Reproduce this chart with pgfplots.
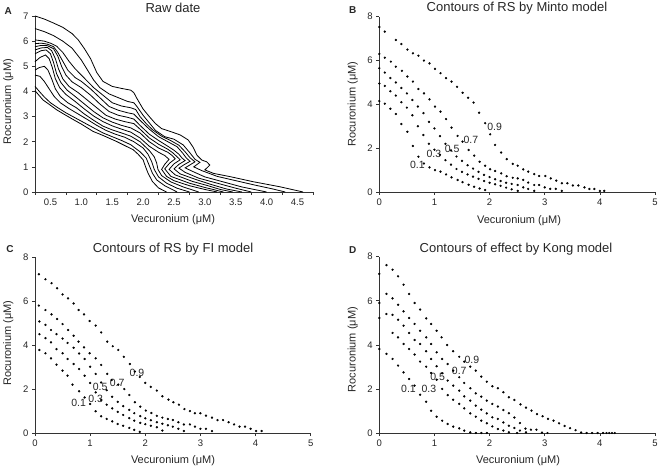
\documentclass[border=0pt]{standalone}
\usepackage{fontspec}
\setmainfont{Liberation Sans}
\usepackage{pgfplots}
\pgfplotsset{compat=1.18}
\begin{document}
\begin{tikzpicture}
\useasboundingbox (0pt,0pt) rectangle (660pt,468pt);
\pgfplotsset{
  panel/.style={
    scale only axis, anchor=south west,
    axis lines*=left,
    axis line style={black!80, line width=0.6pt},
    tick align=outside, major tick length=3pt,
    tick style={black!80, line width=0.6pt},
    tick label style={font=\fontsize{9.5}{11}\selectfont, text=black!85},
    /pgf/number format/assume math mode=true,
    clip=false,
  },
  contour/.style={black, line width=0.8pt},
  dots/.style={only marks, mark=*, mark size=0.95pt, black},
}
\tikzset{
  lab/.style={font=\fontsize{10.5}{12}\selectfont, text=black!85, inner sep=0pt},
  ttl/.style={font=\fontsize{13}{15}\selectfont, text=black!85, inner sep=0pt},
  pletter/.style={font=\fontsize{10}{12}\selectfont\bfseries, text=black!85, inner sep=0pt},
  axl/.style={font=\fontsize{11}{13}\selectfont, text=black!85, inner sep=0pt},
}

% ---------------- A: raw data ----------------
\begin{axis}[panel, at={(35pt,276pt)}, width=278pt, height=176pt,
  xmin=0.25, xmax=4.75, ymin=0, ymax=7,
  xtick={0.25,0.75,...,4.75},
  xticklabels={0.5,1.0,1.5,2.0,2.5,3.0,3.5,4.0,4.5,{}},
  x tick label style={xshift=15.45pt},
  ytick={0,...,7}]
\addplot[contour] coordinates {(0.25,7.0) (0.4,6.88) (0.55,6.72) (0.7,6.55) (0.85,6.3) (0.95,6.05) (1.05,5.7) (1.15,5.3) (1.25,4.75) (1.35,4.4) (1.5,4.2) (1.65,4.12) (1.8,4.05) (1.85,3.95) (1.9,3.72) (2.0,3.3) (2.1,3.0) (2.2,2.72) (2.3,2.52) (2.45,2.4) (2.6,2.27) (2.73,2.07) (2.81,1.78) (2.87,1.47) (2.95,1.27) (3.03,1.2) (3.08,1.07) (3.0,0.88) (3.14,0.74) (3.41,0.61) (3.78,0.41) (4.21,0.21) (4.59,0.0)};
\addplot[contour] coordinates {(0.25,6.5) (0.4,6.38) (0.55,6.22) (0.7,6.0) (0.85,5.72) (1.0,5.25) (1.1,4.85) (1.2,4.45) (1.3,4.15) (1.45,3.9) (1.6,3.75) (1.75,3.6) (1.85,3.55) (1.9,3.4) (2.0,3.05) (2.1,2.75) (2.2,2.45) (2.35,2.2) (2.5,2.1) (2.65,1.87) (2.76,1.55) (2.84,1.3) (2.92,1.18) (2.82,1.0) (2.95,0.85) (3.2,0.62) (3.5,0.45) (3.8,0.28) (4.1,0.12) (4.3,0.0)};
\addplot[contour] coordinates {(0.25,6.05) (0.4,6.0) (0.5,5.92) (0.6,5.8) (0.7,5.55) (0.8,5.2) (0.9,4.9) (1.0,4.65) (1.1,4.4) (1.2,4.15) (1.35,3.85) (1.5,3.55) (1.65,3.42) (1.8,3.35) (1.88,3.28) (1.95,3.0) (2.05,2.72) (2.15,2.48) (2.3,2.22) (2.45,2.04) (2.58,1.86) (2.68,1.6) (2.76,1.36) (2.84,1.2) (2.74,1.05) (2.68,0.96) (2.8,0.82) (3.0,0.6) (3.3,0.4) (3.6,0.2) (4.0,0.0)};
\addplot[contour] coordinates {(0.25,5.9) (0.35,5.92) (0.45,5.88) (0.55,5.78) (0.62,5.55) (0.7,5.2) (0.78,4.85) (0.9,4.55) (1.0,4.4) (1.15,4.1) (1.3,3.75) (1.45,3.4) (1.6,3.25) (1.75,3.15) (1.85,3.1) (1.95,2.85) (2.1,2.5) (2.25,2.2) (2.4,2.0) (2.55,1.8) (2.64,1.55) (2.7,1.35) (2.76,1.22) (2.66,1.08) (2.58,0.95) (2.68,0.78) (2.9,0.55) (3.2,0.35) (3.5,0.15) (3.75,0.0)};
\addplot[contour] coordinates {(0.25,5.78) (0.35,5.83) (0.45,5.82) (0.55,5.7) (0.62,5.4) (0.68,5.0) (0.75,4.65) (0.85,4.38) (1.0,4.15) (1.15,3.85) (1.3,3.5) (1.45,3.2) (1.6,3.05) (1.75,2.97) (1.85,2.9) (1.95,2.65) (2.1,2.3) (2.25,2.05) (2.4,1.82) (2.5,1.66) (2.58,1.5) (2.63,1.35) (2.68,1.25) (2.58,1.1) (2.5,0.92) (2.6,0.72) (2.85,0.5) (3.1,0.3) (3.35,0.12) (3.6,0.0)};
\addplot[contour] coordinates {(0.25,5.65) (0.35,5.73) (0.45,5.75) (0.52,5.62) (0.58,5.3) (0.63,4.9) (0.7,4.5) (0.8,4.2) (0.95,3.95) (1.1,3.65) (1.25,3.35) (1.4,3.05) (1.55,2.9) (1.7,2.8) (1.85,2.72) (1.95,2.5) (2.1,2.15) (2.25,1.9) (2.4,1.7) (2.48,1.56) (2.55,1.4) (2.6,1.28) (2.5,1.12) (2.42,0.9) (2.52,0.68) (2.8,0.42) (3.05,0.25) (3.25,0.1) (3.45,0.0)};
\addplot[contour] coordinates {(0.25,5.5) (0.35,5.62) (0.43,5.65) (0.5,5.5) (0.55,5.15) (0.6,4.7) (0.67,4.35) (0.77,4.05) (0.9,3.8) (1.05,3.5) (1.2,3.2) (1.35,2.95) (1.5,2.78) (1.65,2.65) (1.8,2.55) (1.95,2.35) (2.1,2.0) (2.25,1.75) (2.4,1.58) (2.47,1.45) (2.52,1.32) (2.43,1.15) (2.35,0.92) (2.45,0.62) (2.75,0.35) (3.0,0.18) (3.3,0.0)};
\addplot[contour] coordinates {(0.25,5.18) (0.33,5.35) (0.42,5.45) (0.48,5.3) (0.53,4.95) (0.58,4.5) (0.65,4.15) (0.75,3.88) (0.9,3.6) (1.05,3.3) (1.2,3.02) (1.35,2.8) (1.5,2.63) (1.65,2.5) (1.8,2.38) (1.95,2.15) (2.1,1.82) (2.25,1.58) (2.35,1.45) (2.42,1.3) (2.35,1.1) (2.3,0.9) (2.38,0.62) (2.5,0.45) (2.75,0.25) (3.0,0.1) (3.2,0.0)};
\addplot[contour] coordinates {(0.25,4.85) (0.32,4.95) (0.4,5.0) (0.46,4.85) (0.52,4.5) (0.58,4.1) (0.66,3.8) (0.78,3.55) (0.92,3.35) (1.05,3.1) (1.2,2.85) (1.35,2.62) (1.5,2.47) (1.65,2.35) (1.8,2.22) (1.95,2.0) (2.1,1.65) (2.18,1.4) (2.22,1.15) (2.24,0.9) (2.3,0.65) (2.45,0.4) (2.65,0.2) (2.9,0.0)};
\addplot[contour] coordinates {(0.25,4.65) (0.33,4.6) (0.4,4.4) (0.48,4.1) (0.56,3.8) (0.66,3.55) (0.8,3.32) (0.95,3.1) (1.1,2.88) (1.25,2.65) (1.4,2.45) (1.55,2.3) (1.7,2.18) (1.85,2.0) (2.0,1.75) (2.08,1.5) (2.14,1.2) (2.18,0.9) (2.25,0.6) (2.38,0.35) (2.55,0.15) (2.75,0.0)};
\addplot[contour] coordinates {(0.25,4.2) (0.32,4.0) (0.4,3.78) (0.5,3.55) (0.62,3.35) (0.75,3.15) (0.9,2.95) (1.05,2.75) (1.2,2.55) (1.35,2.35) (1.5,2.2) (1.65,2.05) (1.8,1.88) (1.95,1.6) (2.05,1.35) (2.1,1.05) (2.15,0.75) (2.22,0.48) (2.35,0.25) (2.55,0.0)};
\addplot[contour] coordinates {(0.25,4.03) (0.38,3.66) (0.5,3.45) (0.6,3.27) (0.75,3.05) (0.87,2.88) (1.0,2.7) (1.19,2.41) (1.35,2.25) (1.57,2.01) (1.7,1.85) (1.84,1.68) (1.92,1.5) (2.0,1.28) (2.04,1.0) (2.08,0.75) (2.15,0.42) (2.25,0.16) (2.38,0.0)};
\end{axis}

% ---------------- B: Minto model ----------------
\begin{axis}[panel, at={(379.3pt,276pt)}, width=275.7pt, height=175.3pt,
  xmin=0, xmax=5, ymin=0, ymax=8, xtick={0,...,5}, ytick={0,2,...,8}]
\addplot[dots] coordinates {(0,7.53) (0.10,7.32) (0.30,6.94) (0.40,6.75) (0.51,6.5) (0.61,6.33) (0.71,6.22) (0.81,6.0) (0.91,5.87) (1.01,5.62) (1.11,5.42) (1.21,5.2) (1.31,5.04) (1.41,4.8) (1.51,4.53) (1.61,4.3) (1.71,4.08) (1.81,3.62) (1.92,3.14) (2.01,2.63) (2.1,2.15) (2.21,1.8) (2.31,1.5) (2.42,1.28) (2.51,1.2) (2.61,1.03) (2.70,0.93) (2.81,0.82) (2.90,0.73) (3.01,0.73) (3.11,0.62) (3.21,0.52) (3.31,0.40) (3.41,0.40) (3.51,0.30) (3.61,0.30) (3.72,0.21) (3.81,0.14) (3.90,0.14) (4.0,0.05) (4.08,0.05)};
\addplot[dots] coordinates {(0,6.3) (0.1,6.13) (0.21,5.95) (0.30,5.72) (0.41,5.53) (0.51,5.27) (0.61,5.04) (0.71,4.70) (0.81,4.5) (0.91,4.23) (1.01,3.9) (1.11,3.67) (1.21,3.33) (1.31,2.94) (1.42,2.56) (1.51,2.30) (1.62,1.92) (1.72,1.66) (1.82,1.38) (1.92,1.2) (2.01,1.04) (2.1,0.96) (2.21,0.85) (2.31,0.72) (2.42,0.65) (2.51,0.62) (2.61,0.55) (2.70,0.43) (2.81,0.32) (2.9,0.32) (3.0,0.21) (3.1,0.14) (3.2,0.14) (3.31,0.05)};
\addplot[dots] coordinates {(0,5.65) (0.1,5.45) (0.2,5.2) (0.3,5.0) (0.4,4.75) (0.5,4.5) (0.6,4.2) (0.7,3.9) (0.8,3.6) (0.9,3.2) (1.0,2.9) (1.1,2.55) (1.2,2.2) (1.3,1.9) (1.4,1.62) (1.5,1.42) (1.6,1.22) (1.7,1.07) (1.8,0.92) (1.9,0.78) (2.0,0.68) (2.1,0.58) (2.2,0.5) (2.3,0.42) (2.4,0.37) (2.51,0.32) (2.61,0.21) (2.7,0.14) (2.81,0.05)};
\addplot[dots] coordinates {(0,4.95) (0.1,4.84) (0.2,4.6) (0.3,4.4) (0.4,4.1) (0.5,3.85) (0.6,3.5) (0.7,3.0) (0.8,2.6) (0.9,2.2) (1.0,1.93) (1.1,1.7) (1.2,1.45) (1.3,1.25) (1.4,1.05) (1.5,0.92) (1.6,0.8) (1.7,0.7) (1.8,0.6) (1.9,0.5) (2.0,0.42) (2.1,0.35) (2.2,0.28) (2.3,0.2) (2.4,0.12) (2.51,0.05)};
\addplot[dots] coordinates {(0,4.15) (0.1,4.03) (0.2,3.8) (0.3,3.56) (0.4,3.1) (0.51,2.75) (0.61,2.1) (0.71,1.61) (0.81,1.3) (0.91,1.12) (1.01,1.0) (1.11,0.93) (1.21,0.8) (1.31,0.67) (1.42,0.55) (1.51,0.45) (1.62,0.33) (1.72,0.24) (1.82,0.16) (1.92,0.09)};
\node[lab] at (axis cs:0.69,1.26) {0.1};
\node[lab] at (axis cs:0.99,1.72) {0.3};
\node[lab] at (axis cs:1.32,1.96) {0.5};
\node[lab] at (axis cs:1.66,2.36) {0.7};
\node[lab] at (axis cs:2.09,2.98) {0.9};
\end{axis}

% ---------------- C: FI model ----------------
\begin{axis}[panel, at={(35pt,35pt)}, width=275.7pt, height=175.7pt,
  xmin=0, xmax=5, ymin=0, ymax=8, xtick={0,...,5}, ytick={0,2,...,8}]
\addplot[dots] coordinates {(0.07,7.23) (0.19,7.0) (0.3,6.82) (0.4,6.59) (0.5,6.31) (0.6,6.13) (0.7,5.9) (0.79,5.6) (0.89,5.4) (0.99,5.1) (1.1,4.89) (1.2,4.58) (1.31,4.16) (1.41,3.95) (1.51,3.78) (1.61,3.47) (1.72,3.14) (1.81,2.8) (1.9,2.55) (2.0,2.28) (2.1,2.1) (2.21,1.93) (2.31,1.67) (2.42,1.52) (2.51,1.4) (2.61,1.29) (2.71,1.09) (2.81,1.0) (2.9,0.9) (3.0,0.9) (3.1,0.79) (3.21,0.7) (3.31,0.59) (3.41,0.59) (3.51,0.49) (3.61,0.39) (3.71,0.29) (3.81,0.29) (3.91,0.19) (4.01,0.09) (4.11,0.09)};
\addplot[dots] coordinates {(0.07,5.8) (0.19,5.6) (0.3,5.4) (0.4,5.19) (0.5,4.96) (0.6,4.69) (0.7,4.43) (0.79,4.16) (0.89,3.9) (0.99,3.63) (1.1,3.4) (1.2,3.1) (1.31,2.69) (1.39,2.41) (1.51,2.2) (1.62,2.0) (1.71,1.73) (1.81,1.4) (1.91,1.2) (2.01,1.02) (2.11,0.91) (2.21,0.78) (2.31,0.7) (2.41,0.64) (2.5,0.59) (2.6,0.49) (2.7,0.39) (2.81,0.39) (2.9,0.29) (3.0,0.19) (3.1,0.19) (3.21,0.09)};
\addplot[dots] coordinates {(0.08,5.08) (0.19,4.92) (0.29,4.69) (0.39,4.5) (0.5,4.3) (0.59,4.1) (0.7,3.88) (0.8,3.62) (0.9,3.37) (1.0,3.02) (1.1,2.69) (1.2,2.3) (1.3,1.95) (1.4,1.65) (1.5,1.42) (1.6,1.22) (1.71,1.05) (1.8,0.9) (1.91,0.77) (2.0,0.67) (2.1,0.58) (2.21,0.49) (2.31,0.42) (2.41,0.35) (2.5,0.29) (2.6,0.19) (2.7,0.09)};
\addplot[dots] coordinates {(0.08,4.5) (0.19,4.32) (0.29,4.13) (0.39,3.82) (0.5,3.63) (0.59,3.37) (0.7,3.14) (0.8,2.91) (0.9,2.61) (1.0,2.28) (1.1,1.85) (1.2,1.5) (1.3,1.29) (1.4,1.12) (1.5,0.96) (1.6,0.82) (1.71,0.68) (1.8,0.56) (1.91,0.46) (2.0,0.4) (2.1,0.33) (2.21,0.26) (2.31,0.11)};
\addplot[dots] coordinates {(0.08,3.78) (0.19,3.63) (0.29,3.4) (0.39,3.11) (0.5,2.84) (0.59,2.61) (0.68,2.2) (0.8,1.9) (0.9,1.62) (1.0,1.32) (1.1,0.99) (1.2,0.76) (1.3,0.64) (1.4,0.53) (1.5,0.41) (1.6,0.33) (1.71,0.23) (1.8,0.14) (1.9,0.05)};
\node[lab] at (axis cs:0.79,1.35) {0.1};
\node[lab] at (axis cs:1.1,1.55) {0.3};
\node[lab] at (axis cs:1.18,2.08) {0.5};
\node[lab] at (axis cs:1.49,2.28) {0.7};
\node[lab] at (axis cs:1.85,2.72) {0.9};
\end{axis}

% ---------------- D: Kong model ----------------
\begin{axis}[panel, at={(379.3pt,35pt)}, width=275.7pt, height=176.3pt,
  xmin=0, xmax=5, ymin=0, ymax=8, xtick={0,...,5}, ytick={0,2,...,8}]
\addplot[dots] coordinates {(0,7.22) (0.13,7.62) (0.24,7.41) (0.34,7.11) (0.44,6.73) (0.54,6.31) (0.64,5.9) (0.74,5.6) (0.85,5.2) (0.94,4.95) (1.04,4.64) (1.13,4.34) (1.23,3.99) (1.34,3.71) (1.45,3.46) (1.54,3.24) (1.65,3.01) (1.75,2.83) (1.85,2.56) (1.95,2.33) (2.05,2.12) (2.15,2.03) (2.25,1.85) (2.35,1.62) (2.45,1.5) (2.56,1.3) (2.66,1.15) (2.76,1.02) (2.86,0.86) (2.96,0.76) (3.06,0.64) (3.16,0.56) (3.26,0.44) (3.36,0.32) (3.46,0.22) (3.56,0.13) (3.66,0.02) (3.76,0) (3.86,0) (3.96,0) (4.06,0) (4.12,0) (4.17,0) (4.22,0) (4.27,0)};
\addplot[dots] coordinates {(0,5.9) (0.13,6.31) (0.24,6.11) (0.34,5.82) (0.44,5.52) (0.54,5.22) (0.64,4.95) (0.74,4.64) (0.85,4.34) (0.94,4.04) (1.04,3.66) (1.14,3.36) (1.24,3.13) (1.34,2.83) (1.45,2.53) (1.54,2.27) (1.65,2.03) (1.75,1.8) (1.85,1.65) (1.95,1.47) (2.05,1.32) (2.15,1.2) (2.25,1.04) (2.35,0.9) (2.45,0.7) (2.55,0.45) (2.65,0.2) (2.75,0.15) (2.85,0.15) (2.95,0.02) (3.05,0)};
\addplot[dots] coordinates {(0,5.22) (0.13,5.4) (0.24,5.36) (0.34,5.14) (0.44,4.87) (0.54,4.54) (0.64,4.22) (0.74,4.04) (0.85,3.71) (0.94,3.36) (1.04,3.03) (1.14,2.71) (1.24,2.38) (1.34,2.15) (1.45,1.92) (1.54,1.66) (1.65,1.47) (1.75,1.24) (1.85,1.06) (1.95,0.89) (2.05,0.71) (2.15,0.64) (2.25,0.48) (2.35,0.33) (2.45,0.23) (2.55,0.11) (2.66,0.03)};
\addplot[dots] coordinates {(0.24,4.54) (0.34,4.34) (0.44,4.04) (0.54,3.81) (0.64,3.56) (0.74,3.24) (0.85,3.01) (0.94,2.72) (1.04,2.42) (1.14,2.0) (1.24,1.72) (1.34,1.51) (1.45,1.32) (1.54,1.12) (1.65,0.89) (1.75,0.74) (1.85,0.56) (1.95,0.44) (2.05,0.3) (2.15,0.18) (2.25,0.11) (2.35,0.03) (2.5,0)};
\addplot[dots] coordinates {(0,3.81) (0.13,3.59) (0.24,3.36) (0.34,3.06) (0.44,2.75) (0.54,2.45) (0.64,2.15) (0.74,1.74) (0.85,1.42) (0.94,1.01) (1.04,0.74) (1.14,0.56) (1.24,0.41) (1.34,0.29) (1.45,0.21) (1.54,0.11) (1.65,0.03) (1.75,0) (1.85,0) (1.95,0)};
\node[lab] at (axis cs:0.53,2.0) {0.1};
\node[lab] at (axis cs:0.9,2.0) {0.3};
\node[lab] at (axis cs:1.06,2.53) {0.5};
\node[lab] at (axis cs:1.45,2.83) {0.7};
\node[lab] at (axis cs:1.68,3.31) {0.9};
\end{axis}

% ---------------- titles, panel letters, axis labels ----------------
\node[ttl] at (173pt,459.7pt) {Raw date};
\node[ttl] at (517pt,459.7pt) {Contours of RS by Minto model};
\node[ttl] at (173pt,219pt) {Contours of RS by FI model};
\node[ttl] at (516pt,219pt) {Contours of effect by Kong model};
\node[pletter] at (8.3pt,457.3pt) {A};
\node[pletter] at (352.7pt,458pt) {B};
\node[pletter] at (10pt,219pt) {C};
\node[pletter] at (352.7pt,218.3pt) {D};
\node[axl] at (173pt,248pt) {Vecuronium (μM)};
\node[axl] at (519pt,247.3pt) {Vecuronium (μM)};
\node[axl] at (173pt,7.3pt) {Vecuronium (μM)};
\node[axl] at (518pt,7pt) {Vecuronium (μM)};
\node[axl, rotate=90] at (8.3pt,366.3pt) {Rocuronium (μM)};
\node[axl, rotate=90] at (352.7pt,364pt) {Rocuronium (μM)};
\node[axl, rotate=90] at (8.3pt,125pt) {Rocuronium (μM)};
\node[axl, rotate=90] at (352.7pt,118.3pt) {Rocuronium (μM)};
\end{tikzpicture}
\end{document}
